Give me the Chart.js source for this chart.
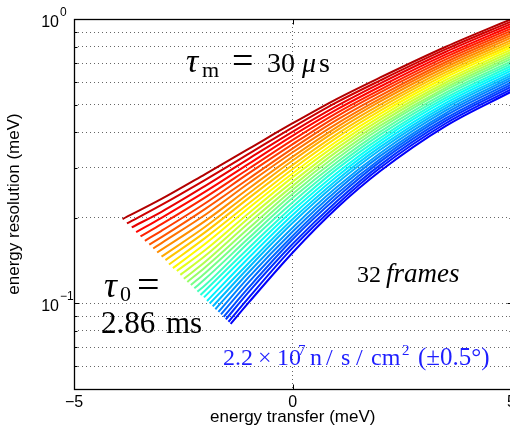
<!DOCTYPE html>
<html>
<head>
<meta charset="utf-8">
<script src="https://cdn.jsdelivr.net/npm/chart.js@4/dist/chart.umd.min.js"></script>
<style>
  html, body { margin: 0; padding: 0; background: #fff; overflow: hidden; width: 510px; height: 431px; }
  #wrap { position: relative; width: 520px; height: 431px; }
</style>
</head>
<body>
<div id="wrap"><canvas id="c" width="520" height="431"></canvas></div>
<script>
// Axis ticks
const xTickValues = [-5, 0, 5];
const xTickLabels = ['\u22125', '0', '5'];
const yTickValues = [0.1, 1];
const yTickBase = ['10', '10'];
const yTickExp = ['\u22121', '0'];
const yGridValues = [0.05, 0.06, 0.07, 0.08, 0.09, 0.1, 0.2, 0.3, 0.4, 0.5, 0.6, 0.7, 0.8, 0.9, 1];

// Resolution curves, one per frame (index 0 = blue, bottom; 31 = red, top).
// Each curve begins at its own lowest energy transfer (startX, startY),
// then passes through the energy transfers listed in probeX.
const startX = [-1.42, -1.47, -1.53, -1.58, -1.64, -1.70, -1.77, -1.83, -1.90, -1.96, -2.03, -2.11, -2.18, -2.25, -2.33, -2.41,
                -2.49, -2.57, -2.65, -2.74, -2.83, -2.91, -3.00, -3.10, -3.19, -3.28, -3.38, -3.48, -3.58, -3.68, -3.79, -3.89];
const startY = [0.0847, 0.0862, 0.0879, 0.0897, 0.0915, 0.0934, 0.0954, 0.0976, 0.0999, 0.102, 0.105, 0.107, 0.110, 0.113, 0.116, 0.119,
                0.122, 0.126, 0.130, 0.133, 0.137, 0.142, 0.146, 0.151, 0.156, 0.161, 0.166, 0.172, 0.178, 0.185, 0.191, 0.198];

const probeX = [-3, -2, -1, 0, 1, 2, 3.5, 5];
const atMinus3 = [null, null, null, null, null, null, null, null, null, null, null, null, null, null, null, null,
                  null, null, null, null, null, null, null, null, 0.163, 0.171, 0.180, 0.190, 0.200, 0.210, 0.222, 0.233];
const atMinus2 = [null, null, null, null, null, null, null, null, null, null, null, null, 0.116, 0.122, 0.128, 0.134,
                  0.140, 0.147, 0.154, 0.162, 0.170, 0.178, 0.186, 0.195, 0.205, 0.215, 0.225, 0.236, 0.247, 0.259, 0.272, 0.285];
const atMinus1 = [0.101, 0.105, 0.110, 0.114, 0.119, 0.124, 0.129, 0.134, 0.139, 0.145, 0.151, 0.157, 0.164, 0.170, 0.177, 0.184,
                  0.192, 0.200, 0.208, 0.217, 0.225, 0.235, 0.244, 0.254, 0.265, 0.275, 0.287, 0.298, 0.310, 0.323, 0.336, 0.350];
const atZero = [0.151, 0.157, 0.162, 0.168, 0.173, 0.179, 0.185, 0.192, 0.198, 0.205, 0.212, 0.219, 0.227, 0.235, 0.243, 0.251,
                0.259, 0.268, 0.278, 0.287, 0.297, 0.307, 0.318, 0.328, 0.340, 0.351, 0.363, 0.376, 0.389, 0.402, 0.416, 0.430];
const atOne = [0.216, 0.222, 0.228, 0.235, 0.242, 0.249, 0.256, 0.264, 0.271, 0.279, 0.287, 0.296, 0.304, 0.313, 0.322, 0.331,
               0.341, 0.351, 0.361, 0.371, 0.382, 0.393, 0.405, 0.416, 0.428, 0.441, 0.454, 0.467, 0.480, 0.494, 0.509, 0.523];
const atTwo = [0.292, 0.300, 0.307, 0.315, 0.322, 0.330, 0.338, 0.347, 0.355, 0.364, 0.373, 0.382, 0.392, 0.402, 0.412, 0.422,
               0.432, 0.443, 0.454, 0.465, 0.476, 0.488, 0.500, 0.513, 0.525, 0.538, 0.552, 0.565, 0.579, 0.594, 0.608, 0.623];
const atThreeFive = [0.421, 0.430, 0.439, 0.448, 0.458, 0.467, 0.477, 0.487, 0.497, 0.507, 0.518, 0.529, 0.540, 0.551, 0.563, 0.574,
                     0.586, 0.598, 0.611, 0.624, 0.637, 0.650, 0.664, 0.678, 0.692, 0.706, 0.721, 0.736, 0.751, 0.767, 0.783, 0.799];
const atFive = [0.556, 0.567, 0.578, 0.589, 0.600, 0.612, 0.623, 0.635, 0.647, 0.660, 0.672, 0.685, 0.698, 0.711, 0.725, 0.739,
                0.753, 0.767, 0.782, 0.797, 0.812, 0.828, 0.843, 0.860, 0.876, 0.893, 0.910, 0.927, 0.945, 0.963, 0.981, 1.0];
const probeCols = [atMinus3, atMinus2, atMinus1, atZero, atOne, atTwo, atThreeFive, atFive];

// jet colour map
function clamp01(v) { return Math.max(0, Math.min(1, v)); }
function jet(t) {
  const r = clamp01(1.5 - Math.abs(4 * t - 3));
  const g = clamp01(1.5 - Math.abs(4 * t - 2));
  const b = clamp01(1.5 - Math.abs(4 * t - 1));
  return `rgb(${Math.round(r * 255)},${Math.round(g * 255)},${Math.round(b * 255)})`;
}

const n = startX.length;
const datasets = startX.map((sx, i) => {
  const pts = [{ x: sx, y: startY[i] }];
  probeX.forEach((px, k) => {
    const v = probeCols[k][i];
    if (v !== null) pts.push({ x: px, y: v });
  });
  return {
    data: pts,
    borderColor: jet(0.12 + 0.83 * i / (n - 1)),
    borderWidth: 2,
    pointRadius: 0,
    fill: false,
    cubicInterpolationMode: 'monotone'
  };
});

const SANS = 'Liberation Sans, Arial, sans-serif';
const SERIF = 'Liberation Serif, Times New Roman, serif';

// Draws a sequence of text pieces, each at its own x, with optional font and baseline shift.
function drawPieces(ctx, baseY, pieces, color) {
  ctx.fillStyle = color;
  ctx.textAlign = 'left';
  ctx.textBaseline = 'alphabetic';
  for (const p of pieces) {
    ctx.font = p.font;
    ctx.fillText(p.t, p.x, baseY + (p.dy || 0));
  }
}

const framePlugin = {
  id: 'frame',
  afterDatasetsDraw(chart) {
    const { ctx, chartArea: a, scales: { x, y } } = chart;
    ctx.save();
    const L = Math.round(a.left) + 0.5, T = Math.round(a.top) + 0.5;
    const R = Math.round(a.right) + 0.5, B = Math.round(a.bottom) + 0.5;
    ctx.strokeStyle = '#000';
    ctx.lineWidth = 1;
    ctx.beginPath();
    // inward tick marks
    for (const v of xTickValues) {
      const px = Math.round(x.getPixelForValue(v)) + 0.5;
      ctx.moveTo(px, B); ctx.lineTo(px, B - 5);
      ctx.moveTo(px, T); ctx.lineTo(px, T + 5);
    }
    for (const v of yGridValues) {
      const py = Math.round(y.getPixelForValue(v)) + 0.5;
      const len = yTickValues.includes(v) ? 5 : 3;
      ctx.moveTo(L, py); ctx.lineTo(L + len, py);
      ctx.moveTo(R, py); ctx.lineTo(R - len, py);
    }
    ctx.stroke();
    ctx.lineWidth = 1.3;
    ctx.strokeRect(L, T, R - L, B - T);

    // y tick labels: 10 with a raised exponent
    ctx.fillStyle = '#000';
    yTickValues.forEach((v, i) => {
      const py = y.getPixelForValue(v);
      ctx.font = '16px ' + SANS;
      ctx.textAlign = 'right';
      ctx.textBaseline = 'alphabetic';
      ctx.fillText(yTickBase[i], 59, py + 8);
      ctx.font = '12px ' + SANS;
      ctx.textAlign = 'left';
      ctx.fillText(yTickExp[i], 60, py - 3);
    });

    // annotations
    drawPieces(ctx, 72, [
      { t: '\u03C4', x: 186, font: 'italic 34px ' + SERIF },
      { t: 'm', x: 202, dy: 5, font: '22px ' + SERIF },
      { t: '=', x: 232, dy: 1, font: '38px ' + SERIF },
      { t: '30', x: 267, font: '28px ' + SERIF },
      { t: '\u03BC', x: 302, font: 'italic 28px ' + SERIF },
      { t: 's', x: 319, font: '28px ' + SERIF }
    ], '#000');
    drawPieces(ctx, 297, [
      { t: '\u03C4', x: 104, font: 'italic 36px ' + SERIF },
      { t: '0', x: 120, dy: 4, font: '22px ' + SERIF },
      { t: '=', x: 137, dy: 1, font: '40px ' + SERIF }
    ], '#000');
    drawPieces(ctx, 333, [
      { t: '2.86', x: 101, font: '31px ' + SERIF },
      { t: 'ms', x: 166, font: '31px ' + SERIF }
    ], '#000');
    drawPieces(ctx, 282, [
      { t: '32', x: 357, font: '24px ' + SERIF },
      { t: 'frames', x: 386, font: 'italic 27px ' + SERIF }
    ], '#000');
    drawPieces(ctx, 365, [
      { t: '2.2', x: 223, font: '24px ' + SERIF },
      { t: '\u00D7', x: 258, font: '24px ' + SERIF },
      { t: '10', x: 277, font: '24px ' + SERIF },
      { t: '7', x: 298, dy: -10, font: '15px ' + SERIF },
      { t: 'n', x: 310, font: '24px ' + SERIF },
      { t: '/', x: 326, font: '24px ' + SERIF },
      { t: 's', x: 341, font: '24px ' + SERIF },
      { t: '/', x: 356, font: '24px ' + SERIF },
      { t: 'cm', x: 371, font: '24px ' + SERIF },
      { t: '2', x: 402, dy: -10, font: '15px ' + SERIF },
      { t: '(\u00B10.5\u00B0)', x: 418, font: '25px ' + SERIF }
    ], 'rgb(30,30,255)');
    ctx.restore();
  }
};

const gridStyle = { color: 'rgba(0,0,0,0.6)', lineWidth: 1, drawTicks: false };

new Chart(document.getElementById('c'), {
  type: 'line',
  data: { datasets },
  options: {
    responsive: false,
    animation: false,
    devicePixelRatio: 1,
    parsing: false,
    layout: { padding: { top: 19, right: 6, left: 0, bottom: 0 } },
    plugins: { legend: { display: false }, tooltip: { enabled: false } },
    scales: {
      x: {
        type: 'linear', min: -5, max: 5,
        afterBuildTicks: s => { s.ticks = xTickValues.map(v => ({ value: v })); },
        afterFit: s => { s.height = 42; },
        ticks: {
          autoSkip: false, maxRotation: 0, padding: 4, color: '#000',
          font: { family: SANS, size: 16 },
          callback: v => xTickLabels[xTickValues.indexOf(v)]
        },
        grid: gridStyle,
        border: { display: false, dash: [1, 3] },
        title: { display: true, text: 'energy transfer (meV)', color: '#000', font: { family: SANS, size: 17 }, padding: { top: 0, bottom: 3 } }
      },
      y: {
        type: 'logarithmic', min: 0.05, max: 1,
        afterBuildTicks: s => { s.ticks = yGridValues.map(v => ({ value: v })); },
        afterFit: s => { s.width = 74; },
        ticks: { display: false },
        grid: gridStyle,
        border: { display: false, dash: [1, 3] },
        title: { display: true, text: 'energy resolution (meV)', color: '#000', font: { family: SANS, size: 17 }, padding: { top: 4, bottom: 4 } }
      }
    }
  },
  plugins: [framePlugin]
});
</script>
</body>
</html>
